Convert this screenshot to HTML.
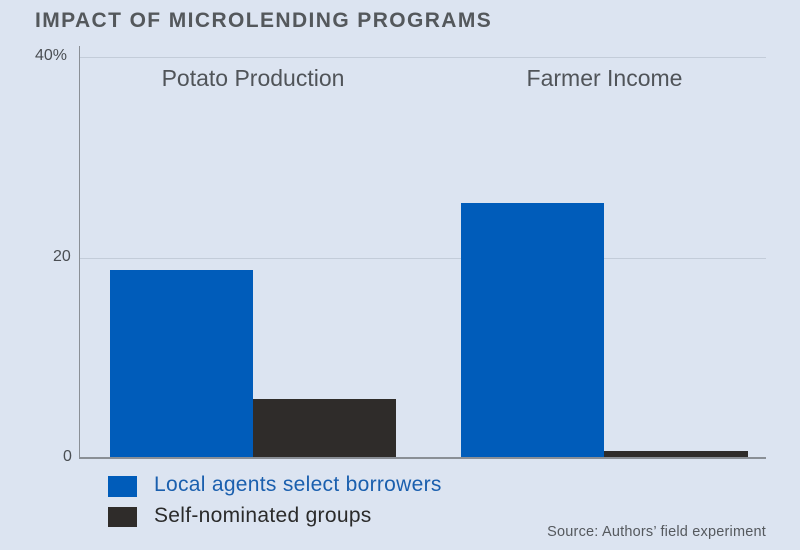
<!DOCTYPE html>
<html><head><style>
html,body{margin:0;padding:0;}
body{width:800px;height:550px;background:#dce4f1;position:relative;overflow:hidden;font-family:"Liberation Sans",sans-serif;}
div{position:absolute;}
.t{white-space:nowrap;}
</style></head><body>
<div class="t" style="left:35px;top:9px;font-size:21px;font-weight:bold;color:#54585c;letter-spacing:1.4px;">IMPACT OF MICROLENDING PROGRAMS</div>
<div style="left:79px;top:46px;width:1px;height:413px;background:#8a8f96"></div>
<div style="left:80px;top:57px;width:686px;height:1px;background:#c3ccd9"></div>
<div style="left:80px;top:258px;width:686px;height:1px;background:#c3ccd9"></div>
<div class="t" style="left:35px;top:47px;font-size:16px;color:#4a4e53">40%</div>
<div class="t" style="left:53px;top:248px;font-size:16px;color:#4a4e53">20</div>
<div class="t" style="left:63px;top:448px;font-size:16px;color:#4a4e53">0</div>
<div class="t" style="left:110px;top:65px;width:286px;text-align:center;font-size:23px;color:#505459">Potato Production</div>
<div class="t" style="left:461px;top:65px;width:287px;text-align:center;font-size:23px;color:#505459">Farmer Income</div>
<div style="left:110px;top:270px;width:143px;height:188px;background:#005cba"></div>
<div style="left:253px;top:399px;width:143px;height:59px;background:#2f2c2a"></div>
<div style="left:461px;top:203px;width:143px;height:255px;background:#005cba"></div>
<div style="left:604px;top:451px;width:144px;height:7px;background:#2f2c2a"></div>
<div style="left:79px;top:457px;width:687px;height:2px;background:#8a8f96"></div>
<div style="left:108px;top:476px;width:29px;height:21px;background:#005cba"></div>
<div class="t" style="left:154px;top:473px;font-size:21px;color:#1a5fae;letter-spacing:0.3px">Local agents select borrowers</div>
<div style="left:108px;top:507px;width:29px;height:20px;background:#2f2c2a"></div>
<div class="t" style="left:154px;top:504px;font-size:21px;color:#2b2b2b;letter-spacing:0.3px">Self-nominated groups</div>
<div class="t" style="right:34px;top:524px;font-size:14.5px;color:#55595e;letter-spacing:0.2px">Source: Authors’ field experiment</div>
</body></html>
